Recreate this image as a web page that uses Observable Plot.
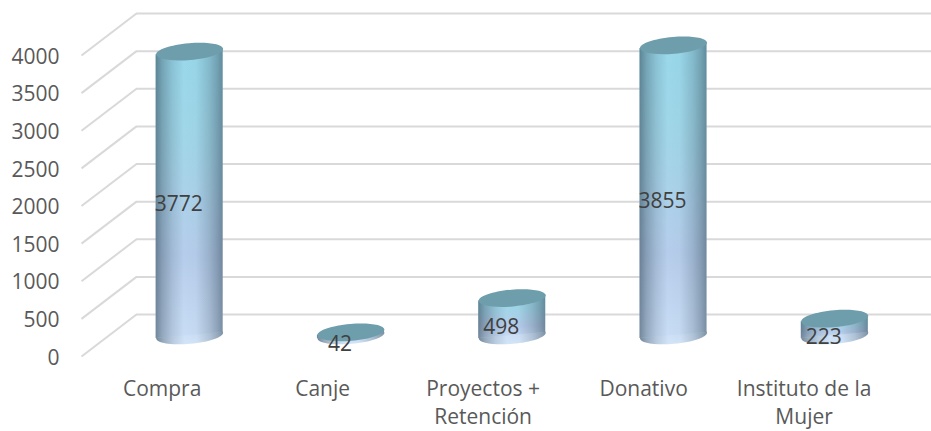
<!DOCTYPE html>
<html>
<head>
<meta charset="utf-8">
<script src="https://cdn.jsdelivr.net/npm/d3@7"></script>
<script src="https://cdn.jsdelivr.net/npm/@observablehq/plot@0.6"></script>
<style>
html,body{margin:0;padding:0;background:#fff;}
svg{display:block;}
</style>
</head>
<body>
<div id="chart"></div>
<script>
const categories = ["Compra", "Canje", "Proyectos +\nRetención", "Donativo", "Instituto de la\nMujer"];
const values = [3772, 42, 498, 3855, 223];
const gridTicks = [0, 500, 1000, 1500, 2000, 2500, 3000, 3500, 4000];

// 3-D wall depth, in data units of each scale
const depthX = 0.341;
const depthY = 558;
const xEnd = 5.27;
const barHalf = 0.2077;
const tilt = 40;

const bars = categories.map((name, i) => ({
  name,
  value: values[i],
  front: 0.5 + i * 0.995,
  center: i + 0.5 + depthX / 2,
  base: depthY / 2,
  top: values[i] + depthY / 2,
  mid: values[i] / 2 + depthY / 2
}));
const edges = bars.flatMap(b => [
  {name: b.name, x: b.center - barHalf, y1: b.base - tilt, y2: b.top - tilt},
  {name: b.name, x: b.center + barHalf, y1: b.base + tilt, y2: b.top + tilt}
]);

const ellipse = {
  draw(ctx, size) {
    const rx = Math.sqrt(size / Math.PI), ry = rx * 0.25, k = 0.5523;
    ctx.moveTo(-rx, 0);
    ctx.bezierCurveTo(-rx, -k * ry, -k * rx, -ry, 0, -ry);
    ctx.bezierCurveTo(k * rx, -ry, rx, -k * ry, rx, 0);
    ctx.bezierCurveTo(rx, k * ry, k * rx, ry, 0, ry);
    ctx.bezierCurveTo(-k * rx, ry, -rx, k * ry, -rx, 0);
    ctx.closePath();
  }
};

function gradient(defs, id, vertical, stops) {
  const g = defs.append("linearGradient").attr("id", id)
    .attr("x1", 0).attr("y1", 0).attr("x2", vertical ? 0 : 1).attr("y2", vertical ? 1 : 0);
  stops.forEach(([o, c, a]) => g.append("stop").attr("offset", o).attr("stop-color", c).attr("stop-opacity", a ?? 1));
}
const gradients = () => {
  const defs = d3.create("svg:defs");
  gradient(defs, "body", true, [[0, "#98D8EA"], [0.3, "#A0D6E8"], [0.72, "#B6CDEB"], [1, "#C9DDF5"]]);
  gradient(defs, "foot", true, [[0, "#C6DBF4"], [1, "#D4E5F8"]]);
  gradient(defs, "shade", false, [[0, "#2A4050", 0.55], [0.1, "#2A4050", 0.34], [0.25, "#2A4050", 0.14], [0.42, "#2A4050", 0], [0.6, "#2A4050", 0.02], [0.8, "#2A4050", 0.2], [0.92, "#2A4050", 0.36], [1, "#2A4050", 0.5]]);
  return defs.node();
};

const textColor = "#595959";
const chart = Plot.plot({
  width: 931,
  height: 431,
  marginLeft: 81,
  marginRight: 0,
  marginTop: 13,
  marginBottom: 75,
  style: {background: "#fff", fontFamily: "'Open Sans', sans-serif"},
  x: {domain: [0, xEnd], axis: null},
  y: {domain: [0, 4000], range: [356, 55], axis: null},
  marks: [
    gradients,
    Plot.link(gridTicks, {x1: 0, y1: d => d, x2: depthX, y2: d => d + depthY, stroke: "#D9D9D9", strokeWidth: 2}),
    Plot.ruleY(gridTicks, {x1: depthX, x2: xEnd, y: d => d + depthY, stroke: "#D9D9D9", strokeWidth: 2}),
    Plot.axisY({ticks: gridTicks, tickSize: 0, tickPadding: 22, fontSize: 21, dy: 1.5, fill: textColor, label: null, tickFormat: d => String(d)}),
    Plot.dot(bars, {x: "center", y: "base", r: 33.6, symbol: ellipse, rotate: -5, fill: "url(#foot)"}),
    Plot.dot(bars, {x: "center", y: "base", r: 33.6, symbol: ellipse, rotate: -5, fill: "url(#shade)"}),
    Plot.areaY(edges, {x: "x", y1: "y1", y2: "y2", z: "name", fill: "url(#body)"}),
    Plot.areaY(edges, {x: "x", y1: "y1", y2: "y2", z: "name", fill: "url(#shade)"}),
    Plot.dot(bars, {x: "center", y: "top", r: 33.6, symbol: ellipse, rotate: -5, fill: "#6E9EAC"}),
    Plot.text(bars, {x: "center", y: "mid", text: d => String(d.value), dx: -11, dy: 10.5, fontSize: 21, fill: "#404040"}),
    Plot.text(bars, {x: "front", y: 0, text: "name", dy: 20, lineAnchor: "top", lineHeight: 1.333, fontSize: 21, fill: textColor})
  ]
});
document.getElementById("chart").append(chart);
</script>
</body>
</html>
